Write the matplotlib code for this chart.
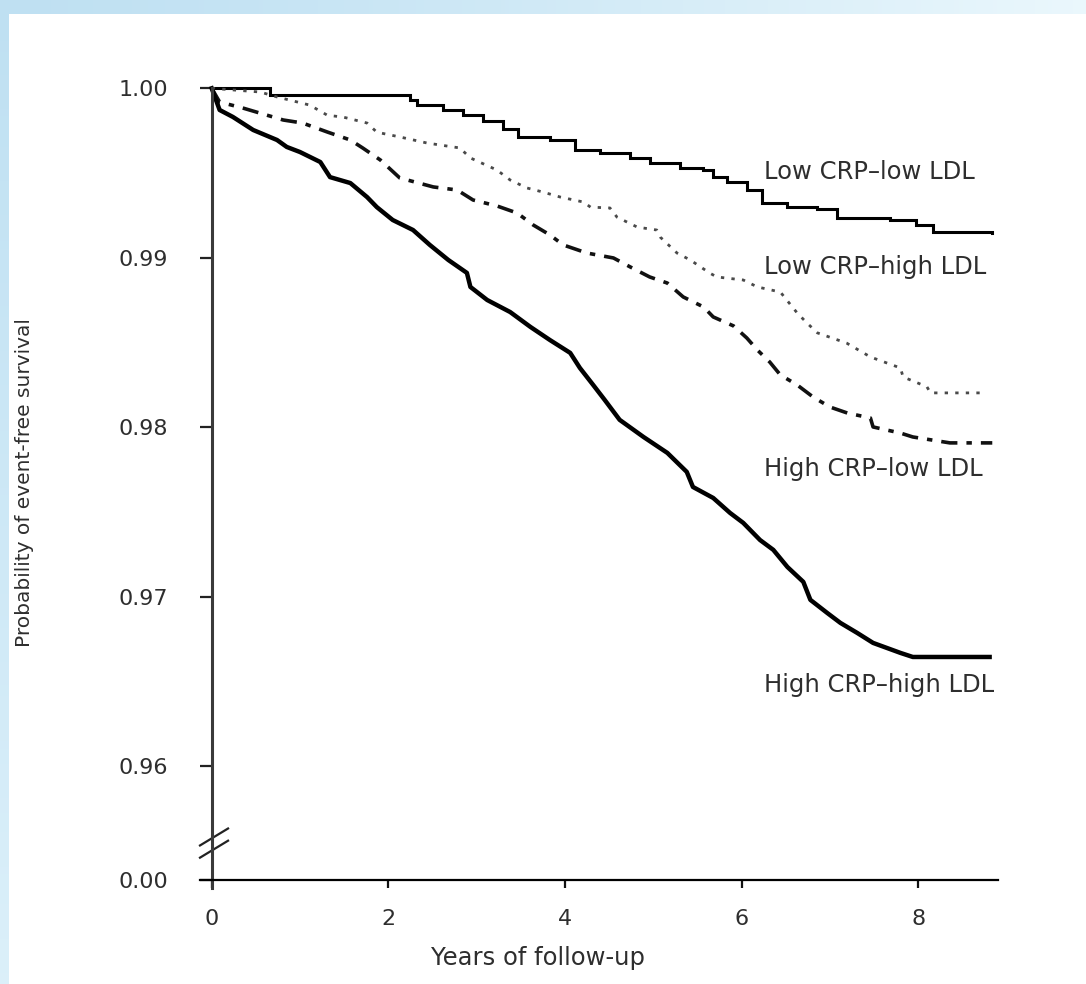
"""Event-free survival by CRP / LDL group (Kaplan-Meier style)."""

import matplotlib
matplotlib.use("Agg")
import matplotlib.pyplot as plt
import numpy as np

W, H, DPI = 1086, 984, 100

# value drawn at the position labelled "0.00" after the axis break
Y_ZERO = 0.95327

years_lowcrp_lowldl = [0, 0.66, 2.25, 2.33, 2.62, 2.85, 3.07, 3.30, 3.47, 3.83, 4.12, 4.40,
                       4.74, 4.96, 5.30, 5.56, 5.68, 5.84, 6.06, 6.23, 6.52, 6.86, 7.08,
                       7.68, 7.98, 8.17, 8.84]
surv_lowcrp_lowldl = [1.0, 0.99960, 0.99931, 0.99901, 0.99872, 0.99840, 0.99807, 0.99760,
                      0.99713, 0.99695, 0.99636, 0.99618, 0.99589, 0.99559, 0.99530, 0.99518,
                      0.99477, 0.99447, 0.99400, 0.99323, 0.99300, 0.99288, 0.99235, 0.99223,
                      0.99193, 0.99152, 0.99146]

years_lowcrp_highldl = [0, 0.55, 0.74, 1.11, 1.31, 1.49, 1.76, 1.87, 2.13, 2.44, 2.81, 2.93,
                        3.23, 3.38, 3.57, 3.75, 3.95, 4.21, 4.29, 4.51, 4.59, 4.82, 5.04, 5.08,
                        5.27, 5.42, 5.64, 5.72, 6.02, 6.18, 6.44, 6.63, 6.74, 6.86, 7.19, 7.46,
                        7.80, 7.83, 8.10, 8.14, 8.74]
surv_lowcrp_highldl = [1.0, 0.99978, 0.99949, 0.99901, 0.99841, 0.99830, 0.99795, 0.99741,
                       0.99713, 0.99677, 0.99648, 0.99589, 0.99518, 0.99459, 0.99412, 0.99388,
                       0.99358, 0.99329, 0.99299, 0.99294, 0.99240, 0.99181, 0.99164, 0.99122,
                       0.99028, 0.98987, 0.98910, 0.98887, 0.98869, 0.98828, 0.98798, 0.98675,
                       0.98616, 0.98557, 0.98497, 0.98415, 0.98350, 0.98297, 0.98239, 0.98203,
                       0.98203]

years_highcrp_lowldl = [0, 0.09, 0.35, 0.81, 1.03, 1.31, 1.57, 1.71, 1.91, 2.13, 2.51, 2.78,
                        2.96, 3.23, 3.46, 3.64, 3.83, 3.98, 4.25, 4.55, 4.74, 4.96, 5.16, 5.34,
                        5.57, 5.68, 5.91, 6.06, 6.18, 6.32, 6.44, 6.63, 6.81, 7.00, 7.20, 7.46,
                        7.49, 7.80, 7.94, 8.36, 8.84]
surv_highcrp_lowldl = [1.0, 0.99919, 0.99884, 0.99813, 0.99795, 0.99742, 0.99695, 0.99648,
                       0.99577, 0.99471, 0.99418, 0.99400, 0.99341, 0.99306, 0.99264, 0.99194,
                       0.99135, 0.99076, 0.99028, 0.98999, 0.98946, 0.98887, 0.98851, 0.98769,
                       0.98710, 0.98651, 0.98598, 0.98527, 0.98456, 0.98385, 0.98309, 0.98250,
                       0.98179, 0.98120, 0.98084, 0.98055, 0.98002, 0.97966, 0.97943, 0.97908,
                       0.97908]

years_highcrp_highldl = [0, 0.09, 0.24, 0.47, 0.74, 0.85, 1.00, 1.23, 1.34, 1.57, 1.76, 1.87,
                         2.05, 2.28, 2.47, 2.68, 2.89, 2.93, 3.12, 3.38, 3.61, 3.83, 4.06, 4.17,
                         4.32, 4.45, 4.62, 4.89, 5.16, 5.38, 5.45, 5.68, 5.87, 6.02, 6.21, 6.36,
                         6.52, 6.70, 6.78, 6.97, 7.12, 7.31, 7.49, 7.80, 7.94, 8.81]
surv_highcrp_highldl = [1.0, 0.99872, 0.99831, 0.99754, 0.99695, 0.99654, 0.99624, 0.99565,
                        0.99476, 0.99441, 0.99358, 0.99299, 0.99223, 0.99164, 0.99076, 0.98987,
                        0.98911, 0.98828, 0.98751, 0.98680, 0.98592, 0.98515, 0.98439, 0.98350,
                        0.98250, 0.98162, 0.98044, 0.97943, 0.97849, 0.97737, 0.97648, 0.97583,
                        0.97495, 0.97436, 0.97335, 0.97277, 0.97176, 0.97088, 0.96982, 0.96905,
                        0.96846, 0.96787, 0.96728, 0.96669, 0.96645, 0.96645]

group_labels = ["Low CRP\u2013low LDL", "Low CRP\u2013high LDL",
                "High CRP\u2013low LDL", "High CRP\u2013high LDL"]
label_y = [0.99506, 0.98946, 0.97754, 0.96480]
label_x = 6.255

y_ticks = [Y_ZERO, 0.96, 0.97, 0.98, 0.99, 1.00]
y_ticklabels = ["0.00", "0.96", "0.97", "0.98", "0.99", "1.00"]
x_ticks = [0, 2, 4, 6, 8]

TEXT = "#2e2e2e"
plt.rcParams["font.family"] = ["DejaVu Sans"]

fig = plt.figure(figsize=(W / DPI, H / DPI), dpi=DPI, facecolor="white")

# light blue frame of the scanned slide (top and left strips)
bg = fig.add_axes([0, 0, 1, 1], zorder=-5)
bg.set_xlim(0, W)
bg.set_ylim(H, 0)
bg.axis("off")
t = np.linspace(0, 1, 256)
c0 = np.array([0.75, 0.88, 0.95])
c1 = np.array([0.92, 0.97, 0.99])
top = c0 + (c1 - c0) * t[:, None] ** 1.3
bg.imshow(top[None, :, :], extent=(0, W, 14, 0), aspect="auto")
left = c0 + (np.array([0.86, 0.94, 0.98]) - c0) * t[:, None]
bg.imshow(left[:, None, :], extent=(0, 9, H, 14), aspect="auto")

# main axes, positioned so data map to the reference pixels
x_lo = (200 - 211.7) / 88.3
x_hi = (998 - 211.7) / 88.3
y_bot = 1 - (888 - 88.3) / 16950
y_top = 1 + (88.3 - 80) / 16950
ax = fig.add_axes([200 / W, (H - 888) / H, 798 / W, (888 - 80) / H])
ax.set_xlim(x_lo, x_hi)
ax.set_ylim(y_bot, y_top)
ax.patch.set_alpha(0)

ax.plot(years_lowcrp_lowldl, surv_lowcrp_lowldl, drawstyle="steps-post",
        color="black", lw=2.2, solid_joinstyle="miter", clip_on=False)
ax.plot(years_lowcrp_highldl, surv_lowcrp_highldl, color="#4a4a4a", lw=2.0,
        linestyle=(0, (1.2, 2.6)), clip_on=False)
ax.plot(years_highcrp_lowldl, surv_highcrp_lowldl, color="#111111", lw=2.6,
        linestyle=(0, (4.5, 2.5, 1.5, 2.5)), clip_on=False)
ax.plot(years_highcrp_highldl, surv_highcrp_highldl, color="black", lw=3.2,
        clip_on=False)

for text, yy in zip(group_labels, label_y):
    ax.text(label_x, yy, text, ha="left", va="center", fontsize=17.5, color=TEXT)

for side in ["top", "right"]:
    ax.spines[side].set_visible(False)
ax.spines["left"].set_position(("data", 0))
ax.spines["left"].set_bounds(y_bot, 1.0)
ax.spines["left"].set_linewidth(2.2)
ax.spines["left"].set_color("#3a3a3a")
ax.spines["bottom"].set_position(("data", Y_ZERO))
ax.spines["bottom"].set_linewidth(1.6)

ax.set_yticks(y_ticks)
ax.set_yticklabels(y_ticklabels)
ax.set_xticks(x_ticks)
ax.tick_params(axis="y", direction="out", length=8.6, width=1.6, pad=23,
               labelsize=16, labelcolor=TEXT, color="#222222")
ax.tick_params(axis="x", direction="out", length=5.8, width=1.6, pad=15,
               labelsize=16, labelcolor=TEXT, color="#111111")

# axis break marks between 0.96 and 0.00
y_brk = 0.95547
dx = (0.185 - x_lo)
for off in (0.00036, -0.00036):
    ax.plot([x_lo, x_lo + dx], [y_brk + off - 0.0005, y_brk + off + 0.0005],
            color="#222222", lw=1.6, clip_on=False)

fig.text(25 / W, 1 - 483 / H, "Probability of event-free survival", rotation=90,
         ha="center", va="center", fontsize=14.5, color=TEXT)
fig.text(538 / W, 1 - 958 / H, "Years of follow-up", ha="center", va="center",
         fontsize=17.5, color=TEXT)

fig.savefig("out.png", dpi=DPI, facecolor="white")
